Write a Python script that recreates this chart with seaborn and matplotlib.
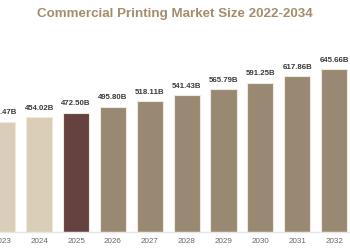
import matplotlib
matplotlib.use("Agg")
import matplotlib.pyplot as plt
import seaborn as sns
import pandas as pd

years = ["2023", "2024", "2025", "2026", "2027", "2028", "2029", "2030", "2031", "2032"]
values = [436.47, 454.02, 472.50, 495.80, 518.11, 541.43, 565.79, 591.25, 617.86, 645.66]
labels = ["436.47B", "454.02B", "472.50B", "495.80B", "518.11B", "541.43B", "565.79B", "591.25B", "617.86B", "645.66B"]
colors = ["#e0d0b2", "#e0d0b2", "#6b3b3a", "#a18a6b", "#a18a6b", "#a18a6b", "#a18a6b", "#a18a6b", "#a18a6b", "#a18a6b"]

sns.set_theme(style="white")
plt.rcParams['font.family'] = ['Liberation Sans', 'DejaVu Sans']

df = pd.DataFrame({"year": years, "value": values})

fig = plt.figure(figsize=(3.5, 2.5), dpi=100)
ax = fig.add_axes([0.0, 0.0732, 1.0, 0.7668])
sns.barplot(data=df, x="year", y="value", hue="year", palette=colors, legend=False,
            width=0.71, ax=ax, edgecolor="#efe8dc", linewidth=0.8)
for p in ax.patches:
    p.set_joinstyle("round")

step = 36.86
x0 = -2.3 / step
ax.set_xlim(x0, x0 + 350 / step)
ax.set_ylim(0, 761)

for i, (v, lab) in enumerate(zip(values, labels)):
    ax.text(i, v + 22, lab, ha="center", va="bottom", fontsize=5.7, color="#3a3a3a",
            fontweight="bold", clip_on=False)

ax.set_xlabel("")
ax.set_ylabel("")
ax.set_yticks([])
ax.tick_params(axis="x", length=0, labelsize=5.8, colors="#666666", pad=4.5)
for s in ["top", "left", "right"]:
    ax.spines[s].set_visible(False)
ax.spines["bottom"].set_color("#e6e6e6")
ax.spines["bottom"].set_linewidth(1.0)

fig.text(0.5, 0.945, "Commercial Printing Market Size 2022-2034", ha="center", va="center",
         fontsize=9.6, fontweight="bold", color="#a38d6d")

fig.savefig("out.png", dpi=100)
